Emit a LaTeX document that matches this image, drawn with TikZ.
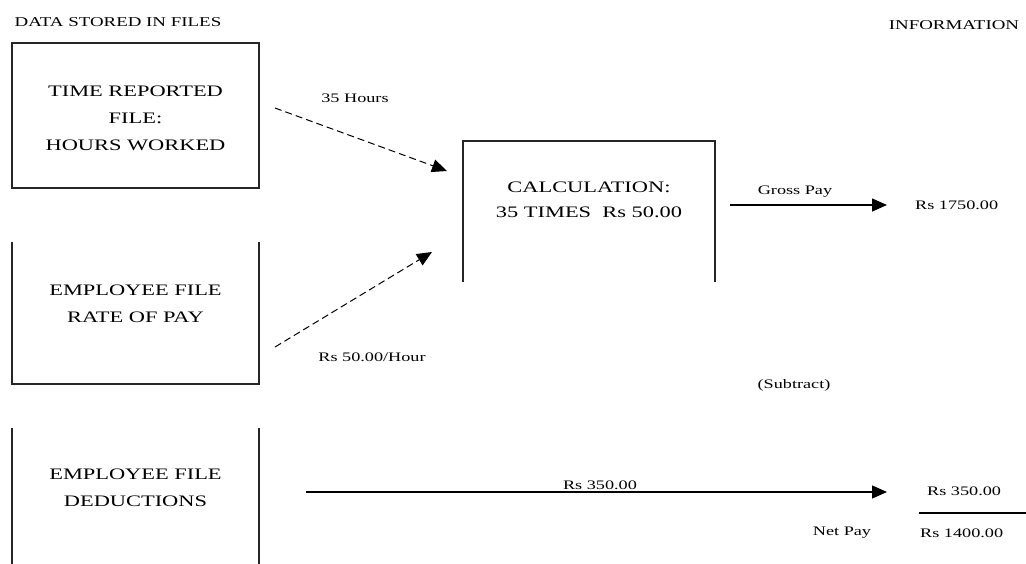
\documentclass[tikz,border=0pt]{standalone}
\usepackage{fontspec}
\setmainfont{Liberation Serif}
\newfontfamily\widefont[FakeStretch=1.4]{Liberation Serif}
\usetikzlibrary{arrows.meta}
\begin{document}
\begin{tikzpicture}[x=1pt,y=-1pt,
  boxtxt/.style={font=\widefont\fontsize{16}{27}\selectfont, inner sep=0pt, align=center},
  ttl/.style={font=\widefont\fontsize{13.5}{16}\selectfont, inner sep=0pt},
  lbl/.style={font=\widefont\fontsize{13}{16}\selectfont, inner sep=0pt},
  border/.style={line width=1.6pt, draw=black!85},
  flow/.style={line width=1.4pt, -{Triangle[length=15pt,width=13pt]}},
  dflow/.style={line width=1pt, -{Triangle[length=15pt,width=13pt]}, dash pattern=on 7pt off 4pt}]
\useasboundingbox (0,0) rectangle (1026,564);
% titles
\node[ttl] (t1) at (118,22) {DATA STORED IN FILES};
\node[ttl] (t2) at (954,25) {INFORMATION};
% box 1
\node[border, minimum width=247pt, minimum height=145pt, inner sep=0pt] (b1) at (135.5,115.5) {};
\node[boxtxt] (b1t) at (b1.center) [yshift=-3pt] {TIME REPORTED\\FILE:\\HOURS WORKED};
% box 2 (open top)
\node[minimum width=247pt, minimum height=142pt, inner sep=0pt] (b2) at (135.5,313) {};
\node[boxtxt] (b2t) at (135.5,304) {EMPLOYEE FILE\\RATE OF PAY};
\draw[border] (b2.north west) -- (b2.south west) -- (b2.south east) -- (b2.north east);
% box 3 (open top and bottom)
\node[minimum width=247pt, minimum height=136pt, inner sep=0pt] (b3) at (135.5,496) {};
\node[boxtxt] (b3t) at (135.5,488) {EMPLOYEE FILE\\DEDUCTIONS};
\draw[border] (b3.north west) -- (b3.south west);
\draw[border] (b3.north east) -- (b3.south east);
% calculation box (open bottom)
\node[minimum width=252pt, minimum height=141pt, inner sep=0pt] (c) at (589,211.5) {};
\node[boxtxt, font=\widefont\fontsize{16}{25}\selectfont] (ct) at (589,200) {CALCULATION:\\35 TIMES\ \ Rs 50.00};
\draw[border] (c.south west) -- (c.north west) -- (c.north east) -- (c.south east);
% dashed inputs
\coordinate (a1s) at (275,108);
\coordinate (a1e) at (447,171);
\draw[dflow] (a1s) -- (a1e);
\node[lbl] (l1) at (355,98) {35 Hours};
\coordinate (a2s) at (275,347);
\coordinate (a2e) at (432,252);
\draw[dflow] (a2s) -- (a2e);
\node[lbl] (l2) at (372,357) {Rs 50.00/Hour};
% gross pay
\coordinate (gs) at (730,205);
\node[lbl, anchor=west] (gp) at (915,205) {Rs 1750.00};
\draw[flow] (gs) -- (887,205);
\node[lbl] (gl) at (795,192) {Gross Pay};
% subtract
\node[lbl] (sub) at (794,385) {(Subtract)};
% deductions
\coordinate (ds) at (306,492);
\node[lbl, anchor=west] (d1) at (927,491) {Rs 350.00};
\draw[flow] (ds) -- (887,492);
\node[lbl] (dl) at (600,485) {Rs 350.00};
\coordinate (r1) at (919,513);
\coordinate (r2) at (1026,513);
\draw[line width=1.2pt] (r1) -- (r2);
\node[lbl] (np) at (842,533) {Net Pay};
\node[lbl, anchor=west] (d2) at (920,533) {Rs 1400.00};
\end{tikzpicture}
\end{document}
